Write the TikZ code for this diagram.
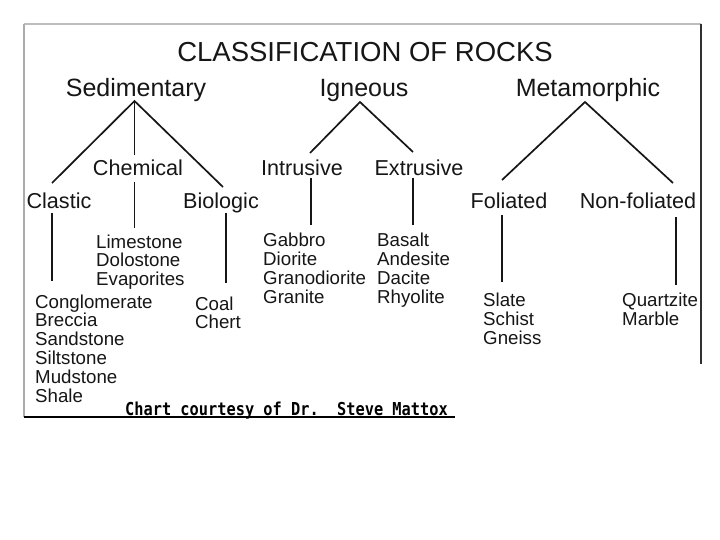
\documentclass[tikz,border=0pt]{standalone}
\usepackage{fontspec}
\setmainfont{Liberation Sans}
\newfontfamily\creditfont{DejaVu Sans Mono}[FakeStretch=0.86]
\definecolor{ink}{HTML}{161616}
\definecolor{frametop}{HTML}{BDBDBD}
\definecolor{frameleft}{HTML}{ABABAB}
\definecolor{frameright}{HTML}{303030}
\begin{document}
\begin{tikzpicture}[x=1pt,y=-1pt,
  titletext/.style={font=\fontsize{27.5}{30}\selectfont, anchor=base, inner sep=0pt, text=ink},
  toptext/.style={font=\fontsize{25}{28}\selectfont, anchor=base, inner sep=0pt, text=ink},
  subtext/.style={font=\fontsize{21.6}{24}\selectfont, anchor=base, inner sep=0pt, text=ink},
  itemtext/.style={font=\fontsize{18.7}{20}\selectfont, anchor=base west, inner sep=0pt, text=ink},
  credittext/.style={font=\creditfont\bfseries\fontsize{17.8}{20}\selectfont\frenchspacing, anchor=base west, inner sep=0pt, text=black},
  link/.style={draw=ink, line width=1.7pt},
]
\useasboundingbox (0,0) rectangle (720,540);
\fill[white] (0,0) rectangle (720,540);

% frame
\coordinate (fTL) at (24,24);
\coordinate (fTR) at (701,24);
\coordinate (fRB) at (701,364);
\coordinate (fBL) at (24,417);
\coordinate (fBR) at (455,417);
\draw[frametop, line width=2pt] (fTL) -- (fTR);
\draw[frameleft, line width=2pt] (fTL) -- (fBL);
\draw[frameright, line width=2pt] (fTR) -- (fRB);
\draw[black, line width=2.4pt] (fBL) -- (fBR);

% title and main classes
\node[titletext] (title) at (365,62) {CLASSIFICATION OF ROCKS};
\node[toptext] (sed) at (136,97) {Sedimentary};
\node[toptext] (ign) at (364,97) {Igneous};
\node[toptext] (met) at (588,97) {Metamorphic};

% sub classes
\node[subtext] (chem) at (138,176) {Chemical};
\node[subtext] (intr) at (302,176) {Intrusive};
\node[subtext] (extr) at (419,176) {Extrusive};
\node[subtext] (clas) at (59,208) {Clastic};
\node[subtext] (biol) at (221,208) {Biologic};
\node[subtext] (fol) at (509,208) {Foliated};
\node[subtext] (nfol) at (638,208) {Non-foliated};

% lists
\node[itemtext] (lime) at (96,248) {Limestone};
\node[itemtext] (dolo) at (96,266.7) {Dolostone};
\node[itemtext] (evap) at (96,285.4) {Evaporites};

\node[itemtext] (cong) at (35,308) {Conglomerate};
\node[itemtext] (brec) at (35,326.8) {Breccia};
\node[itemtext] (sand) at (35,345.6) {Sandstone};
\node[itemtext] (silt) at (35,364.4) {Siltstone};
\node[itemtext] (mud) at (35,383.2) {Mudstone};
\node[itemtext] (shal) at (35,402) {Shale};

\node[itemtext] (coal) at (195,310) {Coal};
\node[itemtext] (cher) at (195,328.5) {Chert};

\node[itemtext] (gabb) at (263,247) {Gabbro};
\node[itemtext] (dior) at (263,265.7) {Diorite};
\node[itemtext] (gran) at (263,284.4) {Granodiorite};
\node[itemtext] (grnt) at (263,303) {Granite};

\node[itemtext] (basa) at (377,247) {Basalt};
\node[itemtext] (ande) at (377,265.7) {Andesite};
\node[itemtext] (daci) at (377,284.4) {Dacite};
\node[itemtext] (rhyo) at (377,303) {Rhyolite};

\node[itemtext] (slat) at (483,306) {Slate};
\node[itemtext] (schi) at (483,325) {Schist};
\node[itemtext] (gnei) at (483,344) {Gneiss};

\node[itemtext] (quar) at (622,306) {Quartzite};
\node[itemtext] (marb) at (622,325) {Marble};

\node[credittext] (credit) at (125,415) {Chart courtesy of Dr.~~Steve Mattox};

% connector points
\coordinate (sedA) at (134.5,101);
\coordinate (clasT) at (52,183);
\coordinate (chemT) at (134.5,155);
\coordinate (biolT) at (223,187);
\coordinate (chemB) at (134.5,182);
\coordinate (chemL) at (134.5,228);
\coordinate (clasB) at (52,213);
\coordinate (clasL) at (52,281);
\coordinate (biolB) at (226,213);
\coordinate (biolL) at (226,283);

\coordinate (ignA) at (360,102);
\coordinate (intrT) at (310,153);
\coordinate (extrT) at (413,152);
\coordinate (intrB) at (311,178);
\coordinate (intrL) at (311,225);
\coordinate (extrB) at (413,178);
\coordinate (extrL) at (413,225);

\coordinate (metA) at (585,102);
\coordinate (folT) at (502,180);
\coordinate (nfolT) at (673,183);
\coordinate (folB) at (502,215);
\coordinate (folL) at (502,282);
\coordinate (nfolB) at (676,217);
\coordinate (nfolL) at (676,285);

\draw[link] (clasT) -- (sedA) -- (biolT);
\draw[link] (sedA) -- (chemT);
\draw[link] (chemB) -- (chemL);
\draw[link] (clasB) -- (clasL);
\draw[link] (biolB) -- (biolL);

\draw[link] (intrT) -- (ignA) -- (extrT);
\draw[link] (intrB) -- (intrL);
\draw[link] (extrB) -- (extrL);

\draw[link] (folT) -- (metA) -- (nfolT);
\draw[link] (folB) -- (folL);
\draw[link] (nfolB) -- (nfolL);
\end{tikzpicture}
\end{document}
